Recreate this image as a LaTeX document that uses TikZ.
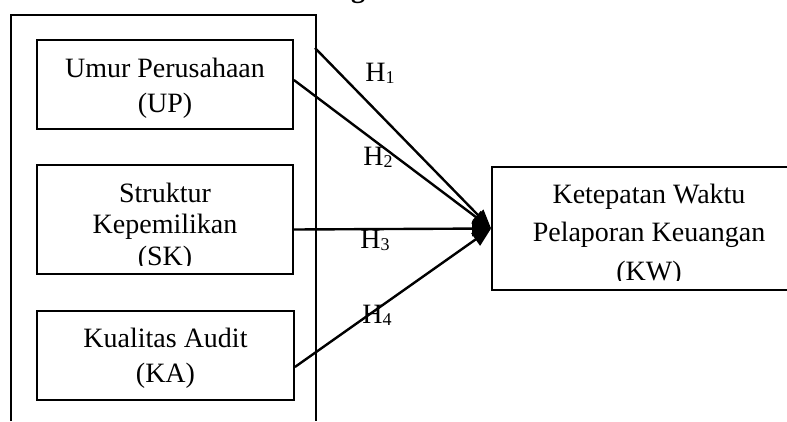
\documentclass[tikz,border=0pt]{standalone}
\usepackage{fontspec}
\setmainfont{Liberation Serif}
\usetikzlibrary{arrows.meta}
\tikzset{
  box/.style={draw, line width=1.8pt, inner sep=0pt},
  lbl/.style={anchor=base, inner sep=0pt},
  hyp/.style={inner sep=0pt, font=\fontsize{28}{34}\selectfont},
  conn/.style={line width=2.4pt, -{Triangle[length=19pt,width=15pt]}},
}
\newcommand{\Hsub}[1]{H\raisebox{-2pt}{\fontsize{18}{18}\selectfont #1}}
\begin{document}
\begin{tikzpicture}[x=1pt,y=-1pt]
\useasboundingbox (0,0) rectangle (787,421);
% fragment of title
\node[anchor=base, inner sep=0pt, font=\bfseries\fontsize{28}{34}\selectfont] (title) at (358,-3) {g};
% outer frame
\draw[line width=1.8pt] (11,421) -- (11,15) -- (316,15) -- (316,421);
% boxes
\node[box, minimum width=256pt, minimum height=89pt] (UP) at (165,84.5) {};
\node[box, minimum width=256pt, minimum height=109pt] (SK) at (165,219.5) {};
\node[box, minimum width=257pt, minimum height=89pt] (KA) at (165.5,355.5) {};
\node[box, minimum width=314pt, minimum height=123pt] (KW) at (649,228.5) {};
% texts
\node[lbl, font=\fontsize{28}{35}\selectfont] (tUP) at (165,77)
  {\begin{tabular}[t]{@{}c@{}}Umur Perusahaan\\(UP)\end{tabular}};
\begin{scope}
\clip (37,165) rectangle (293,265);
\node[lbl, font=\fontsize{28}{31.5}\selectfont] (tSK) at (165,202)
  {\begin{tabular}[t]{@{}c@{}}Struktur\\Kepemilikan\\(SK)\end{tabular}};
\end{scope}
\node[lbl, font=\fontsize{28}{35}\selectfont] (tKA) at (165.5,347)
  {\begin{tabular}[t]{@{}c@{}}Kualitas Audit\\(KA)\end{tabular}};
\begin{scope}
\clip (492,167) rectangle (787,280);
\node[lbl, font=\fontsize{28}{38.5}\selectfont] (tKW) at (649,203)
  {\begin{tabular}[t]{@{}c@{}}Ketepatan Waktu\\Pelaporan Keuangan\\(KW)\end{tabular}};
\end{scope}
% connectors
\coordinate (h1s) at (315,48);
\draw[conn] (h1s) -- (KW.west);
\draw[conn] ([yshift=4.5pt]UP.east) -- (KW.west);
\draw[conn] ([yshift=-10pt]SK.east) -- (KW.west);
\draw[conn] ([yshift=-11.5pt]KA.east) -- (KW.west);
% labels
\node[hyp] (h1) at (380,73) {\Hsub{1}};
\node[hyp] (h2) at (378,157) {\Hsub{2}};
\node[hyp] (h3) at (375,240) {\Hsub{3}};
\node[hyp] (h4) at (377,315) {\Hsub{4}};
\end{tikzpicture}
\end{document}
